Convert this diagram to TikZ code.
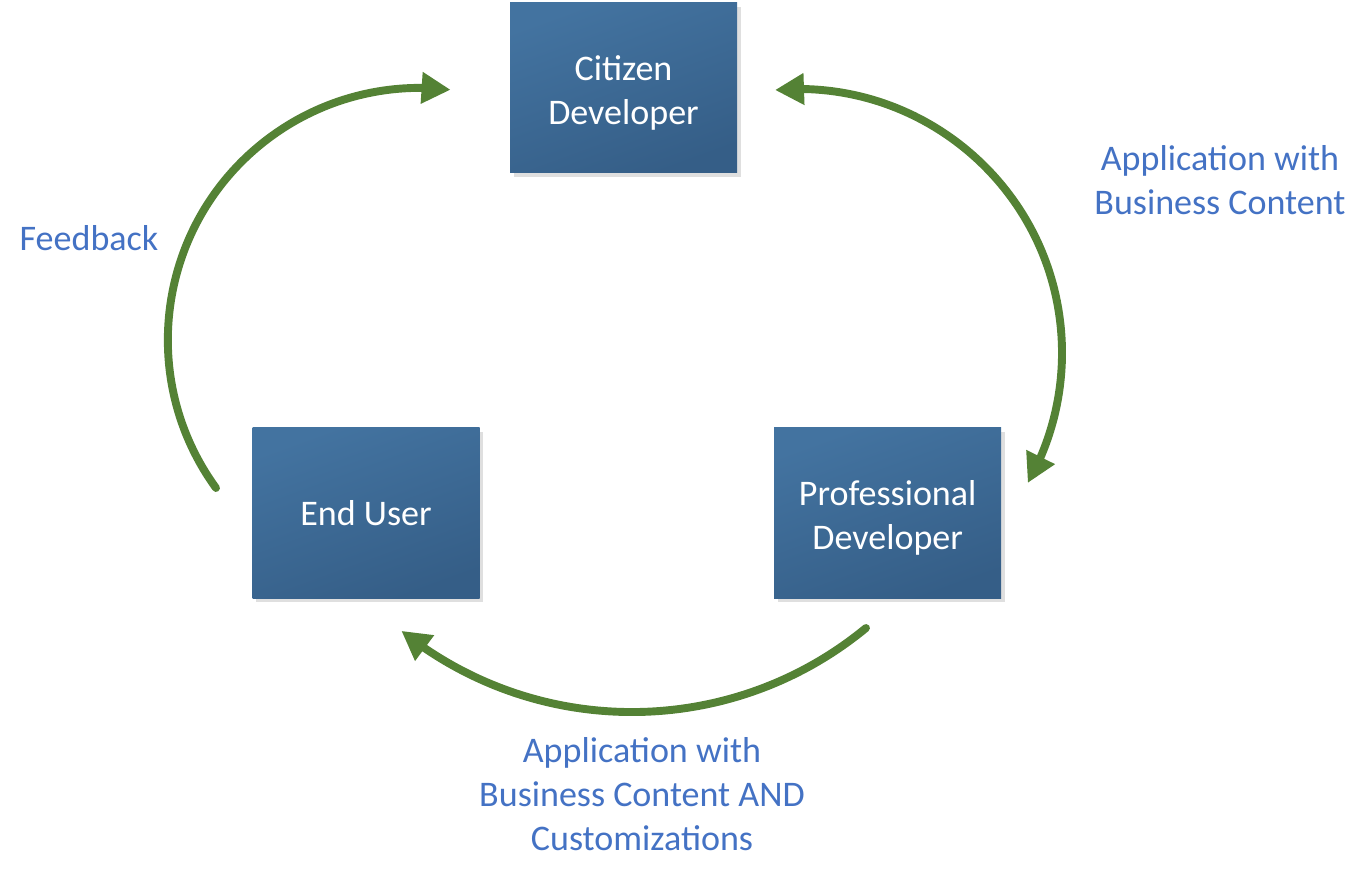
\documentclass[tikz,border=0pt]{standalone}
\usepackage{fontspec}
\setmainfont{Carlito}
\usepackage{tikz}
\usetikzlibrary{arrows.meta,bending,positioning,shadows,calc}
\definecolor{boxTop}{HTML}{4373A0}
\definecolor{boxBot}{HTML}{355E87}
\definecolor{flowGreen}{HTML}{548235}
\definecolor{labelBlue}{HTML}{4472C4}

\begin{document}
\begin{tikzpicture}[
    node distance=0cm,
    font=\fontsize{20.5}{25}\selectfont,
    role/.style={rectangle, minimum width=4.54cm, minimum height=3.4cm, align=center,
                 text=white, top color=boxTop, bottom color=boxBot, shading angle=20,
                 drop shadow={shadow xshift=2pt, shadow yshift=-2pt, opacity=0.25}},
    tworole/.style={role, text height=1.6cm, text depth=0.14cm},
    note/.style={align=center, text=labelBlue},
    flow/.style={line width=4.5pt, draw=flowGreen, line cap=round,
                 >={Triangle[length=0.58cm, width=0.6cm]}}
]
    \useasboundingbox (0,0) rectangle (27.3,17.54);

    % Roles
    \node[role] (end_user) at (7.32,7.28) {End User};
    \node[tworole, right=5.88cm of end_user] (pro_dev) {Professional\\Developer};
    \node[tworole] (citizen_dev) at (12.47,15.78) {Citizen\\Developer};

    % Labels
    \node[note] (lbl_feedback) at (1.78,12.78) {Feedback};
    \node[note] (lbl_content) at (24.4,13.94) {Application with\\Business Content};
    \node[note] (lbl_custom) at (12.84,1.66) {Application with\\Business Content AND\\Customizations};

    % Arcs
    \coordinate (fb_start) at (4.32,7.78);
    \coordinate (ct_start) at (15.50,15.74);
    \coordinate (cu_start) at (17.32,4.98);
    \draw[flow, ->] (fb_start) arc[start angle=216, end angle=83, radius=5.04cm];
    \draw[flow, <->] (ct_start) arc[start angle=95, end angle=-29.5, radius=5.28cm];
    \draw[flow, ->] (cu_start) arc[start angle=-50.5, end angle=-128.8, radius=7.36cm];
\end{tikzpicture}
\end{document}
